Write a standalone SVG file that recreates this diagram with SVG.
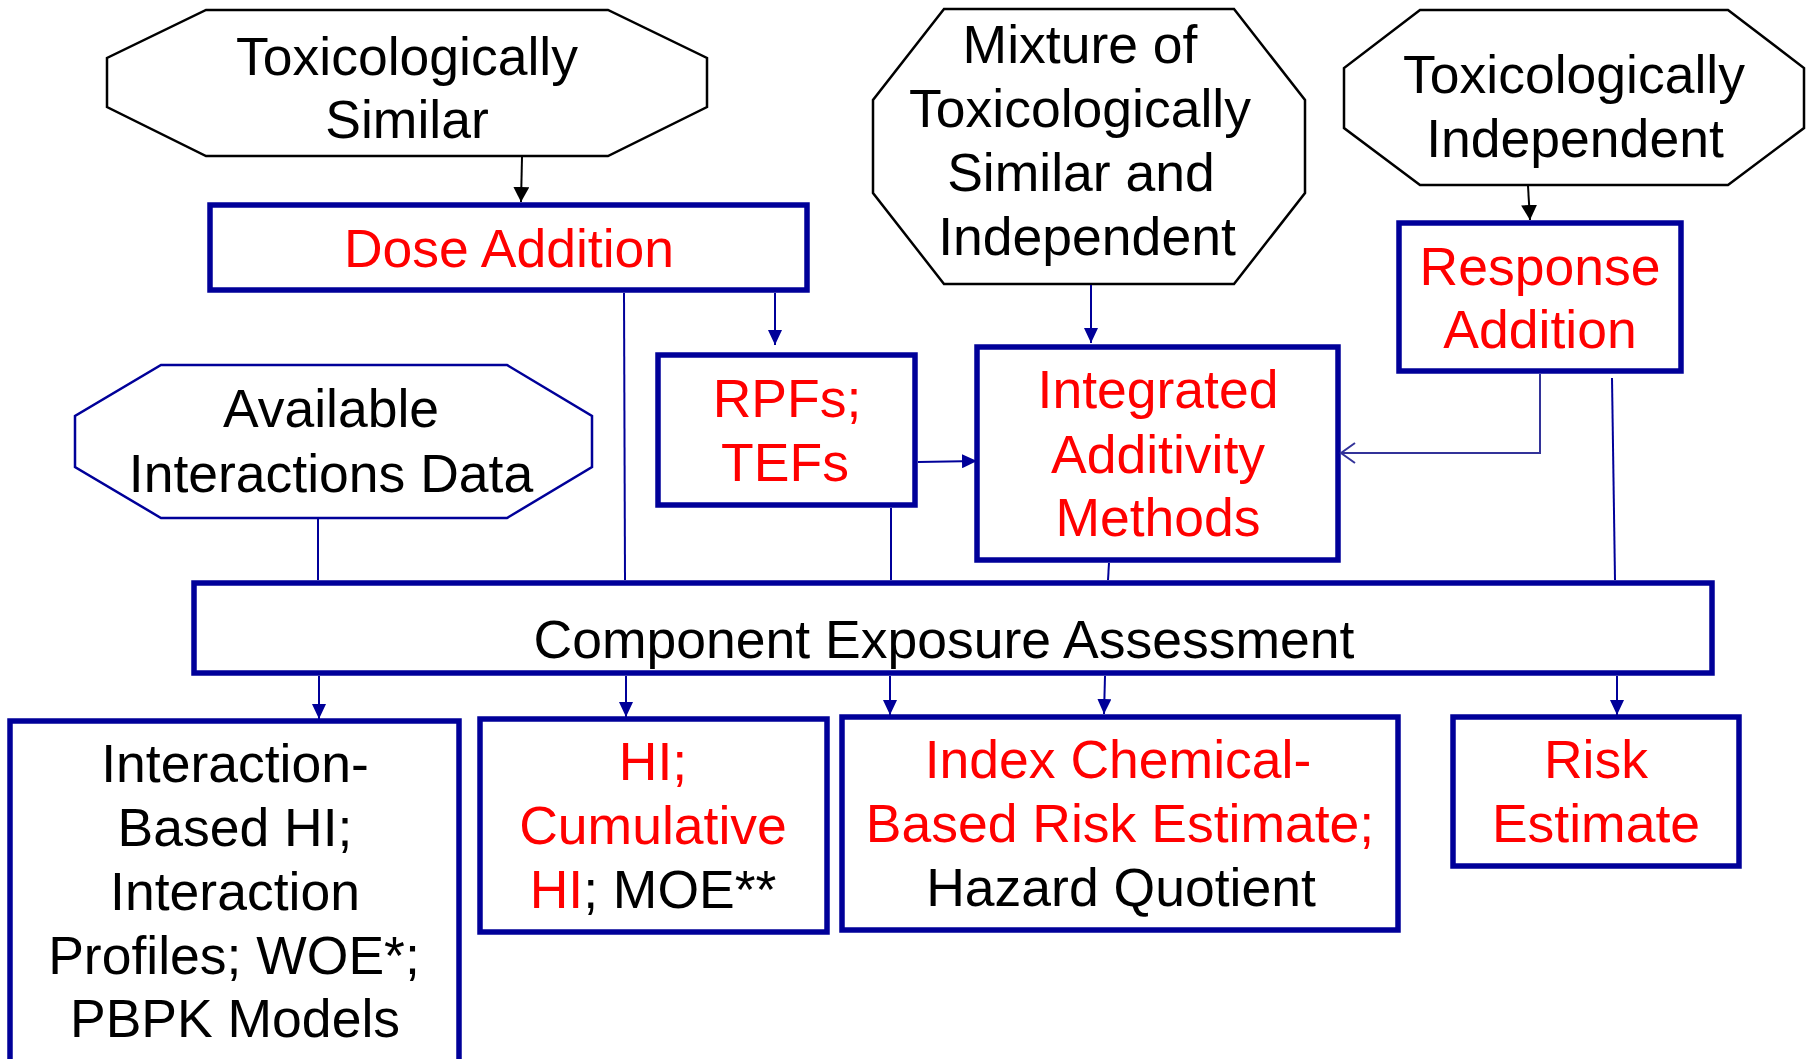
<svg xmlns="http://www.w3.org/2000/svg" width="1808" height="1059" viewBox="0 0 1808 1059">
<style>
text{font-family:"Liberation Sans",Arial,sans-serif;font-size:53.5px;text-anchor:middle;fill:#000}
.r{fill:#ff0000}
.oct{fill:#fff;stroke:#000;stroke-width:2.5}
.octb{fill:#fff;stroke:#000099;stroke-width:2.5}
.box{fill:#fff;stroke:#000099;stroke-width:5.5}
.ln{fill:none;stroke:#000099;stroke-width:2}
.lk{fill:none;stroke:#000;stroke-width:2}
</style>
<defs>
<marker id="ab" markerUnits="userSpaceOnUse" markerWidth="16" markerHeight="14" refX="15" refY="7" orient="auto"><path d="M0,0 L15,7 L0,14 z" fill="#000099"/></marker>
<marker id="ak" markerUnits="userSpaceOnUse" markerWidth="16" markerHeight="16" refX="15" refY="8" orient="auto"><path d="M0,0 L15,8 L0,16 z" fill="#000"/></marker>
<marker id="ao" markerUnits="userSpaceOnUse" markerWidth="18" markerHeight="24" refX="15" refY="11" orient="auto"><path d="M1,1 L15,11 L1,21" fill="none" stroke="#333399" stroke-width="2"/></marker>
</defs>
<rect width="1808" height="1059" fill="#fff"/>

<g id="tox-similar">
<polygon class="oct" points="206,10 608,10 707,58 707,107 608,156 206,156 107,107 107,58"/>
<text x="407" y="75">Toxicologically</text>
<text x="407" y="138">Similar</text>
</g>

<g id="mixture">
<polygon class="oct" points="944,9 1234,9 1305,100 1305,193 1234,284 944,284 873,193 873,100"/>
<text x="1080" y="63">Mixture of</text>
<text x="1080" y="127">Toxicologically</text>
<text x="1081" y="191">Similar and</text>
<text x="1087" y="255">Independent</text>
</g>

<g id="tox-independent">
<polygon class="oct" points="1420,10 1728,10 1804,68 1804,128 1728,185 1420,185 1344,128 1344,68"/>
<text x="1574" y="93">Toxicologically</text>
<text x="1575" y="157">Independent</text>
</g>

<g id="dose-addition">
<rect class="box" x="210" y="205" width="597" height="85"/>
<text class="r" x="509" y="267">Dose Addition</text>
</g>

<g id="response-addition">
<rect class="box" x="1399" y="223" width="282" height="148"/>
<text class="r" x="1540" y="285">Response</text>
<text class="r" x="1540" y="348">Addition</text>
</g>

<g id="available-data">
<polygon class="octb" points="161,365 507,365 592,416 592,467 507,518 161,518 75,467 75,416"/>
<text x="331" y="427">Available</text>
<text x="331" y="492">Interactions Data</text>
</g>

<g id="rpfs">
<rect class="box" x="658" y="355" width="257" height="150"/>
<text class="r" x="787" y="417">RPFs;</text>
<text class="r" x="785" y="481">TEFs</text>
</g>

<g id="integrated">
<rect class="box" x="977" y="347" width="361" height="213"/>
<text class="r" x="1158" y="408">Integrated</text>
<text class="r" x="1158" y="473">Additivity</text>
<text class="r" x="1158" y="536">Methods</text>
</g>

<g id="component-exposure">
<rect class="box" x="194" y="583" width="1518" height="90"/>
<text x="944" y="658">Component Exposure Assessment</text>
</g>

<g id="interaction-hi">
<rect class="box" x="10" y="721" width="449" height="360"/>
<text x="235" y="782">Interaction-</text>
<text x="235" y="846">Based HI;</text>
<text x="235" y="910">Interaction</text>
<text x="234" y="974">Profiles; WOE*;</text>
<text x="235" y="1037">PBPK Models</text>
</g>

<g id="hi-cumulative">
<rect class="box" x="480" y="719" width="347" height="213"/>
<text class="r" x="653" y="780">HI;</text>
<text class="r" x="653" y="844">Cumulative</text>
<text x="653" y="908"><tspan class="r">HI</tspan>; MOE**</text>
</g>

<g id="index-chemical">
<rect class="box" x="842" y="717" width="556" height="213"/>
<text class="r" x="1118" y="778">Index Chemical-</text>
<text class="r" x="1120" y="842">Based Risk Estimate;</text>
<text x="1121" y="906">Hazard Quotient</text>
</g>

<g id="risk-estimate">
<rect class="box" x="1453" y="717" width="286" height="149"/>
<text class="r" x="1596" y="778">Risk</text>
<text class="r" x="1596" y="842">Estimate</text>
</g>

<g id="connectors">
<line class="lk" x1="522" y1="157" x2="521" y2="202" marker-end="url(#ak)"/>
<line class="lk" x1="1528" y1="186" x2="1530" y2="220" marker-end="url(#ak)"/>
<line class="ln" x1="775" y1="293" x2="775" y2="345" marker-end="url(#ab)"/>
<line class="ln" x1="1091" y1="285" x2="1091" y2="343" marker-end="url(#ab)"/>
<line class="ln" x1="918" y1="462" x2="977" y2="461" marker-end="url(#ab)"/>
<polyline points="1540,374 1540,453 1341,453" fill="none" stroke="#333399" stroke-width="2" marker-end="url(#ao)"/>
<line class="ln" x1="318" y1="519" x2="318" y2="580"/>
<line class="ln" x1="624" y1="293" x2="625" y2="580"/>
<line class="ln" x1="891" y1="508" x2="891" y2="580"/>
<line class="ln" x1="1109" y1="563" x2="1108" y2="580"/>
<line class="ln" x1="1612" y1="378" x2="1615" y2="580"/>
<line class="ln" x1="319" y1="676" x2="319" y2="719" marker-end="url(#ab)"/>
<line class="ln" x1="626" y1="676" x2="626" y2="717" marker-end="url(#ab)"/>
<line class="ln" x1="890" y1="676" x2="890" y2="715" marker-end="url(#ab)"/>
<line class="ln" x1="1105" y1="676" x2="1104" y2="714" marker-end="url(#ab)"/>
<line class="ln" x1="1617" y1="676" x2="1617" y2="715" marker-end="url(#ab)"/>
</g>
</svg>
